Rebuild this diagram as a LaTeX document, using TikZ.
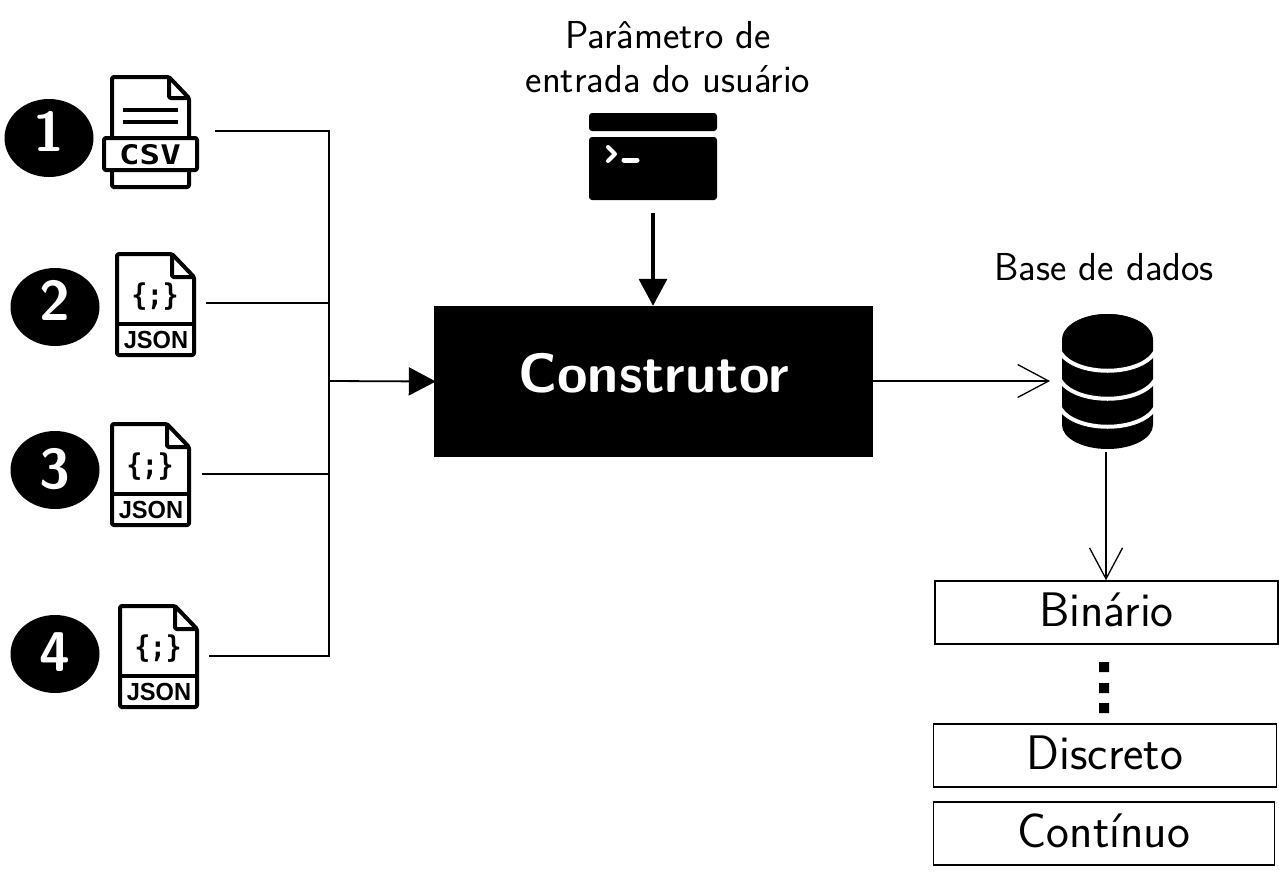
\documentclass[tikz,border=0pt]{standalone}
\usepackage{fontspec}
\usepackage{tikz}
\usetikzlibrary{arrows.meta,shapes.geometric}
\newfontfamily\iconfont{DejaVu Sans Mono}
\newfontfamily\tagfont{Liberation Sans}

\begin{document}
\begin{tikzpicture}[x=1pt,y=-1pt,font=\sffamily]
      %use to draw the file icons
      \tikzset{
      numdot/.style={ellipse,fill=black,text=white,inner sep=0pt,minimum width=89,minimum height=78,font=\sffamily\bfseries\fontsize{56}{58}\selectfont},
      labeltext/.style={inner sep=0pt,align=center,font=\sffamily\fontsize{39}{44}\selectfont},
      typebox/.style={draw,line width=1.5,inner sep=0pt,minimum height=63,font=\sffamily\fontsize{48.5}{50}\selectfont},
      wire/.style={line width=1.8},
      openarrow/.style={line width=1.3,-{Straight Barb[length=31,width=33,line width=1.3]}},
      solidarrow/.style={-{Triangle[length=27,width=28]}},
      iconline/.style={line width=4,rounded corners=1.5,line join=round},
      jsonfile/.pic={
        \draw[iconline] (57,0) -- (2,0) -- (2,101) -- (79,101) -- (79,23) -- cycle;
        \draw[iconline] (57,0) -- (57,23) -- (79,23);
        \draw[iconline] (2,70) -- (79,70);
        \node[inner sep=0pt,font=\iconfont\bfseries\fontsize{26}{30}\selectfont] (-code) at (40,43) {\scalebox{1}[1.15]{\{;\}}};
        \node[inner sep=0pt,font=\tagfont\bfseries\fontsize{22.5}{26}\selectfont] (-tag) at (41,86) {\scalebox{1.05}[1.1]{JSON}};
      },
      }
      \useasboundingbox (0,0) rectangle (1279,889);

      %Sources - CSV
      \node[numdot] (n1) at (49,138) {\raisebox{14pt}{1}};
      \draw[iconline] (169,77) -- (112,77) -- (112,187) -- (189,187) -- (189,98) -- cycle;
      \draw[iconline] (169,77) -- (169,98) -- (189,98);
      \draw[line width=4] (123,110) -- (178,110) (123,122) -- (178,122);
      \draw[iconline,fill=white] (104,138) rectangle (197,170);
      \node[inner sep=0pt,font=\iconfont\bfseries\fontsize{31}{34}\selectfont] (csvtag) at (150,155) {\scalebox{1.1}[0.87]{CSV}};

      %Sources - JSON
      \node[numdot] (n2) at (55,307) {\raisebox{13pt}{2}};
      \pic (j2) at (115,254) {jsonfile};
      \node[numdot] (n3) at (55,470) {\raisebox{4pt}{3}};
      \pic (j3) at (110,424) {jsonfile};
      \node[numdot] (n4) at (55,654) {\raisebox{3pt}{4}};
      \pic (j4) at (118,606) {jsonfile};

      %bus into the builder
      \coordinate (csvout) at (215,131);
      \coordinate (j2out) at (206,303);
      \coordinate (j3out) at (202,474);
      \coordinate (j4out) at (209,656);
      \coordinate (bustop) at (329,131);
      \coordinate (busfoot) at (329,656);
      \coordinate (busin) at (329,381);
      \node[fill=black,inner sep=0pt,minimum width=439,minimum height=151] (ctor) at (653.5,381.5) {};
      \node[inner sep=0pt,text=white,font=\sffamily\bfseries\fontsize{55.5}{58}\selectfont] (ctorname) at (653.5,373) {Construtor};
      \draw[wire] (csvout) -- (bustop) -- (busfoot) -- (j4out);
      \draw[wire] (j2out) -- (j2out -| bustop);
      \draw[wire] (j3out) -- (j3out -| bustop);
      \draw[wire,solidarrow,shorten >=-2] (busin) -- (ctor.west);

      %user parameter
      \node[labeltext] (param) at (668,57) {Parâmetro de\\entrada do usuário};
      \fill[rounded corners=3] (589,131) -- (589,113) -- (717,113) -- (717,131) -- cycle;
      \fill[rounded corners=3] (589,137) -- (589,200) -- (717,200) -- (717,137) -- cycle;
      \draw[white,line width=4,line cap=round,line join=round] (608,147) -- (615,154) -- (608,161);
      \draw[white,line width=5,line cap=round] (624,160) -- (637,160);
      \coordinate (termout) at (653,213);
      \draw[line width=3.5,solidarrow] (termout) -- (termout |- ctor.north);

      %database
      \node[labeltext] (dbname) at (1104,267) {Base de dados};
      \fill (1062,340) arc[x radius=45.5,y radius=26,start angle=180,end angle=360] -- (1153,425) arc[x radius=45.5,y radius=24,start angle=0,end angle=180] -- cycle;
      \fill (1107.5,340) ellipse[x radius=45.5,y radius=26];
      \foreach \yb in {352,380,408}
        \draw[white,line width=4] (1060,\yb) .. controls (1075,\yb+25) and (1140,\yb+25) .. (1155,\yb);
      \coordinate (dbin) at (1050,381);
      \coordinate (dbout) at (1106,452);
      \draw[openarrow] (ctor.east |- busin) -- (dbin);

      %variable types
      \node[typebox,minimum width=343] (bin) at (1106.5,612.5) {\raisebox{5pt}{Binário}};
      \node[typebox,minimum width=343] (disc) at (1105,755.5) {\raisebox{5pt}{Discreto}};
      \node[typebox,minimum width=341] (cont) at (1104,833.5) {\raisebox{5pt}{Contínuo}};
      \draw[openarrow] (dbout) -- (dbout |- bin.north);
      \fill (1099,662) rectangle (1109,672) (1099,683) rectangle (1109,693) (1099,703) rectangle (1109,713);
\end{tikzpicture}
\end{document}
